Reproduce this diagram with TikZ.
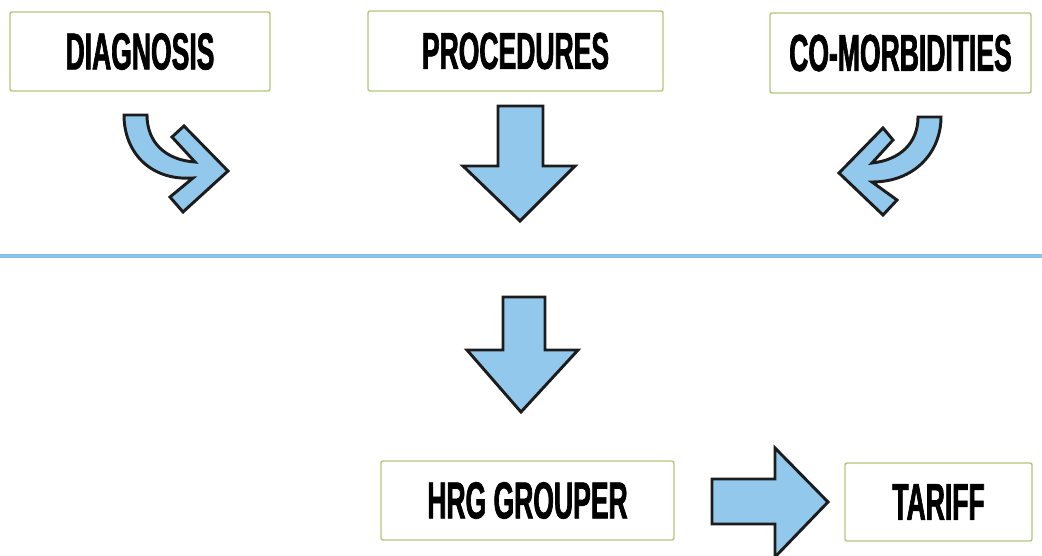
\documentclass[tikz,border=0pt]{standalone}
\usepackage{fontspec}
\newfontfamily\condfont[FakeStretch=0.51,FakeBold=1.3]{Liberation Sans}
\definecolor{boxgreen}{HTML}{B4C67C}
\definecolor{arrowfill}{HTML}{92C8EC}
\definecolor{arrowline}{HTML}{1C1C1C}
\definecolor{sepline}{HTML}{86C3EB}
\tikzset{
  lbl/.style={draw=boxgreen, line width=1.1pt, rounded corners=1.5pt, fill=white,
    font=\condfont\bfseries\fontsize{39}{40}\selectfont, text=black, inner sep=0pt},
  blockarrow/.style={draw=arrowline, fill=arrowfill, line width=2.2pt, line join=miter},
}
\begin{document}
\begin{tikzpicture}[x=0.75pt,y=-0.75pt]
\useasboundingbox (0,0) rectangle (1042,556);
% boxes
\node[lbl, minimum width=195pt, minimum height=59.25pt] (diag) at (140,51.5) {DIAGNOSIS};
\node[lbl, minimum width=221.25pt, minimum height=60pt] (proc) at (515.5,51) {PROCEDURES};
\node[lbl, minimum width=195.75pt, minimum height=60pt] (comorb) at (900.5,53) {CO-MORBIDITIES};
\node[lbl, minimum width=219.75pt, minimum height=59.25pt] (hrg) at (527.5,500.5) {HRG GROUPER};
\node[lbl, minimum width=140.25pt, minimum height=58.5pt] (tariff) at (938.5,502) {TARIFF};
% separator
\coordinate (sl) at (0,256);
\coordinate (sr) at (1042,256);
\draw[sepline, line width=2.3pt] (sl) -- (sr);
% curved arrow left
\draw[blockarrow] (124,115) -- (147,115) .. controls (147,142) and (165,160) .. (195,162)
  -- (172,137) -- (184,126) -- (228,171) -- (183,212) -- (170,197) -- (193,178)
  .. controls (150,181) and (124,152) .. (124,115) -- cycle;
% curved arrow right
\draw[blockarrow] (941,117) -- (918,117) .. controls (918,143) and (900,160) .. (872,163)
  -- (893,140) -- (883,128) -- (839,173) -- (883,215) -- (897,200) -- (872,182)
  .. controls (915,182) and (941,152) .. (941,117) -- cycle;
% down arrow top
\draw[blockarrow] (498,106) -- (543,106) -- (543,166) -- (575,166) -- (520,221) -- (463,166) -- (498,166) -- cycle;
% down arrow bottom
\draw[blockarrow] (503,297) -- (545,297) -- (545,350) -- (578,350) -- (521,412) -- (467,350) -- (503,350) -- cycle;
% right arrow
\draw[blockarrow] (712,479) -- (775,479) -- (775,448) -- (828,502) -- (775,557) -- (775,524) -- (712,524) -- cycle;
\end{tikzpicture}
\end{document}
